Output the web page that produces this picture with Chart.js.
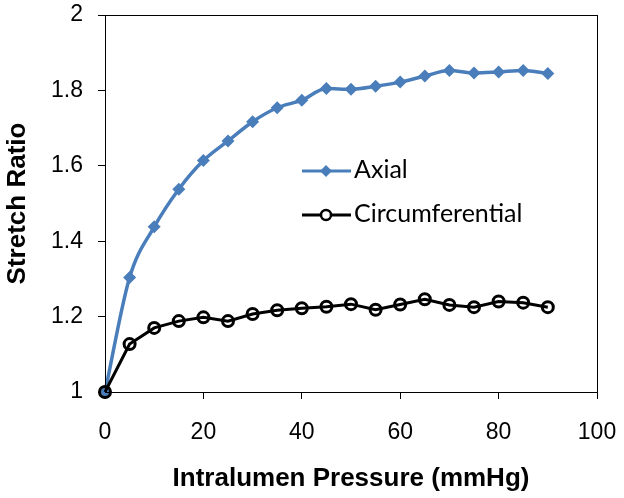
<!DOCTYPE html>
<html>
<head>
<meta charset="utf-8">
<script src="https://cdn.jsdelivr.net/npm/chart.js@4"></script>
<style>
  html, body { margin: 0; padding: 0; background: #fff; }
  #wrap { width: 624px; height: 498px; }
</style>
</head>
<body>
<div id="wrap"><canvas id="stretchChart" width="624" height="498"></canvas></div>
<script>
// pressure steps (mmHg) and stretch ratios
var pressure = [0, 5, 10, 15, 20, 25, 30, 35, 40, 45, 50, 55, 60, 65, 70, 75, 80, 85, 90];
var axial = [1.00, 1.304, 1.438, 1.538, 1.614, 1.666, 1.717, 1.754, 1.774, 1.805, 1.803,
  1.811, 1.822, 1.838, 1.853, 1.846, 1.849, 1.853, 1.845];
var circumferential = [1.00, 1.127, 1.170, 1.188, 1.198, 1.188, 1.207, 1.217, 1.222, 1.226,
  1.233, 1.218, 1.232, 1.246, 1.231, 1.225, 1.240, 1.237, 1.225];
var xTicks = [0, 20, 40, 60, 80, 100];
var yTicks = [1, 1.2, 1.4, 1.6, 1.8, 2];
var seriesNames = ['Axial', 'Circumferential'];

var BLUE = '#4A7EBB';

function toPoints(ys) {
  return pressure.map(function(p, i) { return { x: p, y: ys[i] }; });
}

// box round the plot area (top and right edges)
var frame = {
  id: 'frame',
  afterDraw: function(chart) {
    var a = chart.chartArea, ctx = chart.ctx;
    ctx.save();
    ctx.strokeStyle = '#000';
    ctx.lineWidth = 1;
    ctx.strokeRect(a.left + 0.5, a.top + 0.5, a.right - a.left, a.bottom - a.top);
    ctx.restore();
  }
};

// legend inside the plot, drawn like the Excel one
var inLegend = {
  id: 'inLegend',
  afterDraw: function(chart) {
    var ctx = chart.ctx;
    var rows = [
      { y: 171, color: BLUE, marker: 'diamond' },
      { y: 215, color: '#000', marker: 'circle' }
    ];
    ctx.save();
    rows.forEach(function(r, i) {
      ctx.strokeStyle = r.color;
      ctx.lineWidth = 3;
      ctx.beginPath();
      ctx.moveTo(302, r.y);
      ctx.lineTo(351, r.y);
      ctx.stroke();
      if (r.marker === 'diamond') {
        ctx.fillStyle = BLUE;
        ctx.beginPath();
        ctx.moveTo(326, r.y - 6);
        ctx.lineTo(332, r.y);
        ctx.lineTo(326, r.y + 6);
        ctx.lineTo(320, r.y);
        ctx.closePath();
        ctx.fill();
      } else {
        ctx.fillStyle = '#fff';
        ctx.lineWidth = 2.5;
        ctx.beginPath();
        ctx.arc(326, r.y, 5, 0, Math.PI * 2);
        ctx.fill();
        ctx.stroke();
      }
      ctx.fillStyle = '#000';
      ctx.font = '25px Lato';
      ctx.textBaseline = 'middle';
      ctx.textAlign = 'left';
      ctx.fillText(seriesNames[i], 354, r.y - 1);
    });
    ctx.restore();
  }
};

new Chart(document.getElementById('stretchChart'), {
  type: 'line',
  data: {
    datasets: [
      {
        label: seriesNames[1],
        data: toPoints(circumferential),
        borderColor: '#000',
        borderWidth: 3,
        pointStyle: 'circle',
        pointRadius: 5.5,
        pointBorderWidth: 3,
        pointBorderColor: '#000',
        pointBackgroundColor: 'rgba(0,0,0,0)',
        tension: 0,
        clip: false
      },
      {
        label: seriesNames[0],
        data: toPoints(axial),
        borderColor: BLUE,
        borderWidth: 3.5,
        pointStyle: 'rectRot',
        pointRadius: 6.5,
        pointBorderWidth: 0,
        pointBackgroundColor: BLUE,
        cubicInterpolationMode: 'monotone',
        clip: false
      }
    ]
  },
  options: {
    responsive: false,
    animation: false,
    events: [],
    layout: { padding: { top: 15, right: 27, left: 0, bottom: 0 } },
    plugins: {
      legend: { display: false },
      tooltip: { enabled: false }
    },
    scales: {
      x: {
        type: 'linear',
        min: 0,
        max: 100,
        afterBuildTicks: function(s) { s.ticks = xTicks.map(function(v) { return { value: v }; }); },
        afterFit: function(s) { s.height = 106; s.paddingLeft = 0; s.paddingRight = 0; },
        grid: { drawOnChartArea: false, drawTicks: true, tickLength: 7, color: '#000' },
        border: { color: '#000', width: 1 },
        ticks: {
          color: '#000',
          padding: 20,
          maxRotation: 0,
          font: { family: 'Liberation Sans', size: 23 }
        },
        title: {
          display: true,
          text: 'Intralumen Pressure (mmHg)',
          color: '#000',
          padding: { top: 0, bottom: 4 },
          font: { family: 'Liberation Sans', size: 26, weight: 'bold' }
        }
      },
      y: {
        min: 1,
        max: 2,
        afterBuildTicks: function(s) { s.ticks = yTicks.map(function(v) { return { value: v }; }); },
        afterFit: function(s) { s.width = 105; s.paddingTop = 0; s.paddingBottom = 0; },
        grid: { drawOnChartArea: false, drawTicks: true, tickLength: 7, color: '#000' },
        border: { color: '#000', width: 1 },
        ticks: {
          color: '#000',
          padding: 15,
          font: { family: 'Liberation Sans', size: 23 },
          callback: function(v) { return String(Math.round(v * 10) / 10); }
        },
        title: {
          display: true,
          text: 'Stretch Ratio',
          color: '#000',
          padding: { top: 2, bottom: 0 },
          font: { family: 'Liberation Sans', size: 26, weight: 'bold' }
        }
      }
    }
  },
  plugins: [frame, inLegend]
});
</script>
</body>
</html>
